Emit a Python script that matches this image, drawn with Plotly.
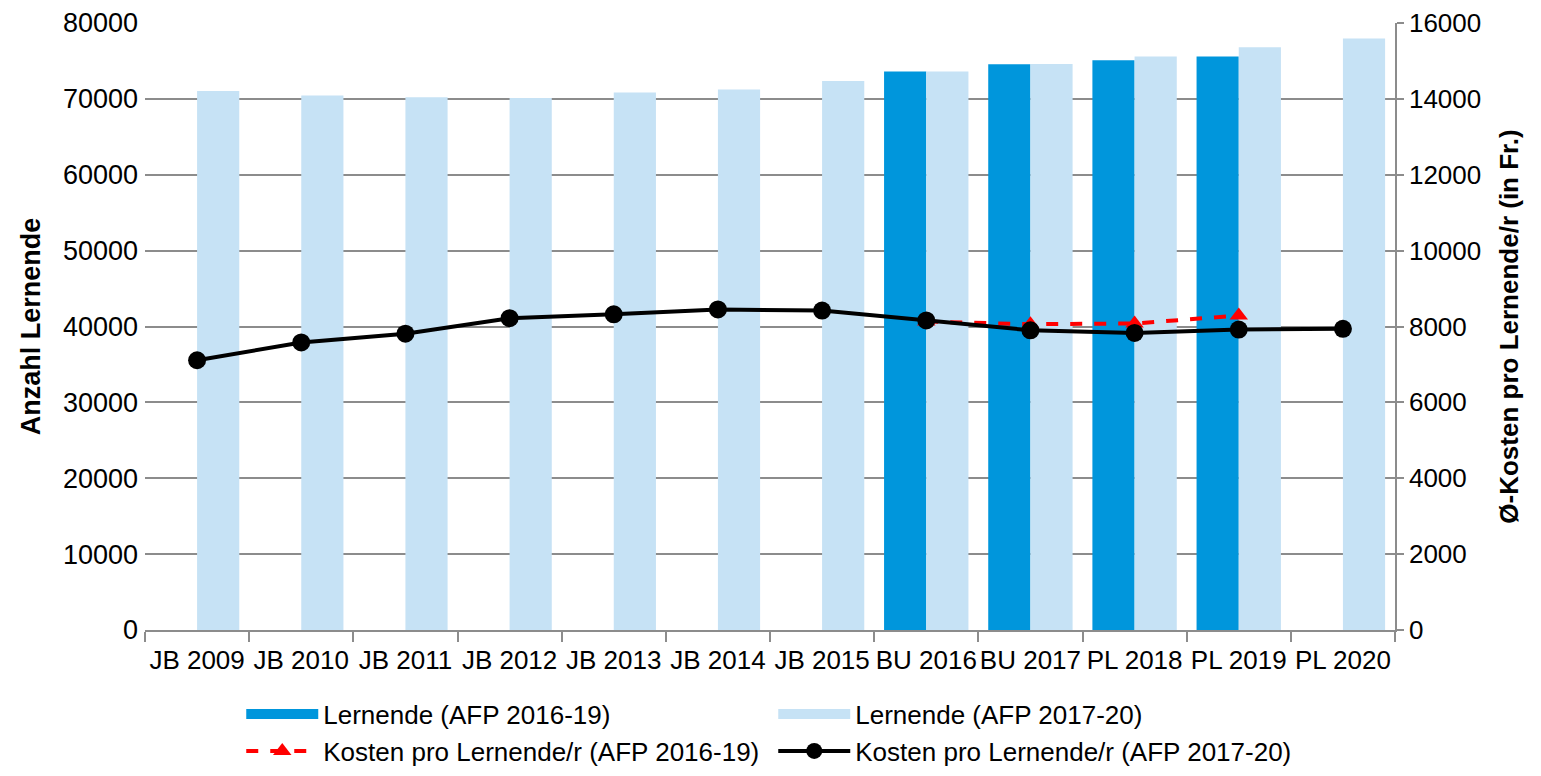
import plotly.graph_objects as go

# Kategorien (Jahre)
jahre = ["JB 2009", "JB 2010", "JB 2011", "JB 2012", "JB 2013", "JB 2014", "JB 2015",
         "BU 2016", "BU 2017", "PL 2018", "PL 2019", "PL 2020"]

# Anzahl Lernende
lernende_afp_16_19 = [None, None, None, None, None, None, None,
                      73600, 74550, 75100, 75600, None]
lernende_afp_17_20 = [71050, 70450, 70200, 70100, 70850, 71250, 72350,
                      73600, 74600, 75600, 76800, 77950]

# Kosten pro Lernende/r (in Fr.)
kosten_afp_16_19 = [None, None, None, None, None, None, None,
                    8130, 8060, 8080, 8290, None]
kosten_afp_17_20 = [7110, 7580, 7810, 8220, 8320, 8450, 8420,
                    8160, 7900, 7830, 7920, 7940]

COLOR_DARK = "#0096DC"
COLOR_LIGHT = "#C6E2F5"
COLOR_GRID = "#8C8C8C"
FONT = "Arial, Liberation Sans, sans-serif"

fig = go.Figure()

# Balken (Legende über breite Farbfelder statt kleiner Quadrate)
fig.add_trace(go.Bar(x=jahre, y=lernende_afp_16_19, name="Lernende (AFP 2016-19)",
                     legendgroup="b1", showlegend=False,
                     marker=dict(color=COLOR_DARK, line=dict(width=0))))
fig.add_trace(go.Bar(x=jahre, y=lernende_afp_17_20, name="Lernende (AFP 2017-20)",
                     legendgroup="b2", showlegend=False,
                     marker=dict(color=COLOR_LIGHT, line=dict(width=0))))
fig.add_trace(go.Scatter(x=[None], y=[None], name="Lernende (AFP 2016-19)", legendgroup="b1",
                         mode="lines", line=dict(color=COLOR_DARK, width=22)))
fig.add_trace(go.Scatter(x=[None], y=[None], name="Lernende (AFP 2017-20)", legendgroup="b2",
                         mode="lines", line=dict(color=COLOR_LIGHT, width=22)))

# Kosten-Linien (rechte Achse)
fig.add_trace(go.Scatter(x=jahre, y=kosten_afp_16_19, name="Kosten pro Lernende/r (AFP 2016-19)",
                         yaxis="y2", mode="lines+markers",
                         line=dict(color="#FF0000", width=4, dash="dash"),
                         marker=dict(symbol="triangle-up", size=16, color="#FF0000")))
fig.add_trace(go.Scatter(x=jahre, y=kosten_afp_17_20, name="Kosten pro Lernende/r (AFP 2017-20)",
                         yaxis="y2", mode="lines+markers",
                         line=dict(color="#000000", width=4),
                         marker=dict(symbol="circle", size=18, color="#000000")))

# Seite hat 8px Body-Rand -> Figur etwas kleiner
fig.update_layout(
    width=1533, height=768,
    paper_bgcolor="white", plot_bgcolor="white",
    margin=dict(l=137, r=146, t=15, b=146, autoexpand=False),
    font=dict(family=FONT, size=26, color="#000000"),
    barmode="group", bargap=0.19, bargroupgap=0,
    showlegend=True,
    legend=dict(orientation="h", x=0.077, xanchor="left", y=-0.1, yanchor="top",
                entrywidth=445, entrywidthmode="pixels", itemwidth=72,
                font=dict(size=26), tracegroupgap=0),
    xaxis=dict(type="category", range=[-0.5, 11.5], tickson="boundaries", ticks="outside",
               ticklen=10, tickcolor=COLOR_GRID, tickwidth=1.5, showline=True,
               linecolor=COLOR_GRID, linewidth=1.5, showgrid=False, tickangle=0,
               automargin=False, ticklabelstandoff=6, tickfont=dict(size=26)),
    yaxis=dict(range=[0, 80000], dtick=10000, tickformat="d", showgrid=True,
               gridcolor=COLOR_GRID, gridwidth=1.5, showline=False, ticks="",
               zeroline=False, automargin=False, ticklabeloverflow="allow",
               ticklabelstandoff=6,
               title=dict(text="<b>Anzahl Lernende</b>", font=dict(size=27), standoff=14),
               tickfont=dict(size=27)),
    yaxis2=dict(range=[0, 16000], dtick=2000, tickformat="d", overlaying="y", side="right",
                showgrid=False, zeroline=False, showline=True, linecolor=COLOR_GRID,
                linewidth=1.5, ticks="outside", ticklen=7, tickcolor=COLOR_GRID,
                tickwidth=1.5, automargin=False, ticklabeloverflow="allow",
                title=dict(text="<b>Ø-Kosten pro Lernende/r (in Fr.)</b>", font=dict(size=26), standoff=20),
                tickfont=dict(size=26)),
)

fig.write_html("out.html")
